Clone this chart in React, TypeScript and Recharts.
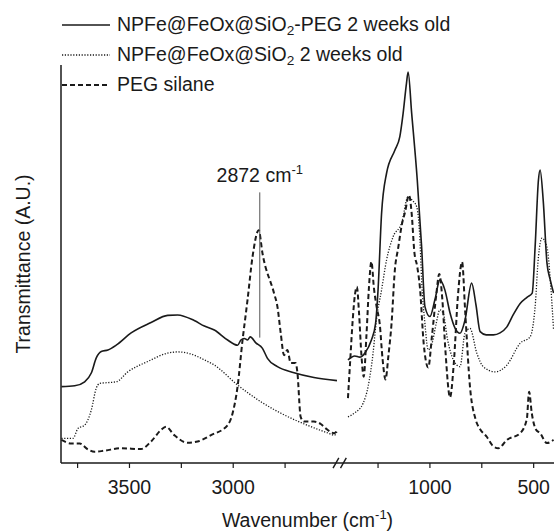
import { LineChart, Line, XAxis, YAxis, ReferenceLine, ReferenceDot, Label } from "recharts";

// wavenumber (cm-1) / transmittance (a.u.) pairs
const solidLeft: [number, number][] = [
  [3828, 19.2], [3764, 19.4], [3716, 20.4], [3684, 22.6], [3660, 26.4], [3636, 28.0], [3604, 28.4],
  [3564, 29.6], [3492, 32.7], [3396, 35.3], [3316, 37.1], [3268, 37.2], [3188, 35.8], [3139, 34.4],
  [3091, 33.4], [3027, 30.9], [2979, 29.6], [2963, 30.9], [2947, 31.3], [2931, 30.9], [2918, 31.7],
  [2891, 30.2], [2859, 28.8], [2835, 26.3], [2787, 24.2], [2707, 22.7], [2611, 21.5], [2500, 20.7],
];
const solidRight: [number, number][] = [
  [1395, 25.9], [1362, 26.9], [1338, 26.6], [1314, 27.6], [1282, 30.9], [1262, 35.0], [1250, 43.5],
  [1233, 62.7], [1209, 72.8], [1169, 78.6], [1145, 82.0], [1129, 87.9], [1113, 95.4], [1105, 98.2],
  [1088, 87.9], [1061, 71.1], [1040, 54.3], [1024, 39.3], [1000, 36.8], [976, 41.0], [952, 46.0],
  [928, 43.5], [903, 37.7], [879, 33.9], [855, 32.6], [831, 35.9], [799, 45.2], [778, 39.7],
  [758, 33.0], [729, 32.2], [694, 32.2], [662, 32.7], [629, 34.2], [599, 37.2], [565, 40.1],
  [531, 41.7], [507, 42.7], [493, 54.3], [477, 71.1], [469, 73.6], [454, 66.0], [436, 50.3],
  [420, 46.0], [404, 42.7],
];
const dottedLeft: [number, number][] = [
  [3828, 6.2], [3772, 6.2], [3748, 8.7], [3716, 9.5], [3684, 13.3], [3660, 18.8], [3644, 20.0],
  [3604, 20.2], [3564, 20.4], [3508, 22.9], [3412, 25.5], [3316, 27.6], [3268, 27.9], [3204, 27.4],
  [3139, 25.9], [3091, 24.6], [2979, 19.6], [2867, 15.4], [2755, 12.1], [2643, 9.5], [2547, 7.6],
  [2512, 7.0], [2500, 7.9],
];
const dottedRight: [number, number][] = [
  [1395, 11.6], [1362, 12.6], [1322, 15.0], [1298, 19.2], [1274, 27.6], [1258, 35.9], [1233, 43.5],
  [1209, 51.0], [1177, 56.9], [1137, 60.2], [1105, 66.9], [1085, 66.0], [1064, 64.4], [1048, 56.0],
  [1040, 46.0], [1024, 35.0], [1008, 28.4], [990, 30.0], [970, 35.0], [952, 38.5], [936, 37.6],
  [915, 31.0], [887, 25.9], [855, 24.2], [831, 32.6], [807, 33.8], [774, 27.6], [743, 24.2],
  [686, 22.9], [629, 24.6], [565, 30.1], [517, 31.7], [493, 39.3], [477, 51.8], [460, 56.5],
  [436, 54.3], [420, 46.0], [404, 33.4],
];
const dashedLeft: [number, number][] = [
  [3828, 5.8], [3780, 4.9], [3740, 4.9], [3700, 3.4], [3668, 2.8], [3620, 3.1], [3540, 3.7],
  [3444, 3.5], [3396, 5.4], [3348, 8.3], [3324, 9.1], [3284, 7.0], [3220, 5.1], [3172, 5.4],
  [3107, 7.0], [3027, 9.5], [3003, 12.5], [2979, 19.2], [2955, 30.9], [2939, 37.6], [2931, 41.0],
  [2907, 51.8], [2877, 58.5], [2859, 52.7], [2803, 42.6], [2787, 39.3], [2771, 32.6], [2755, 27.1],
  [2739, 28.4], [2723, 25.1], [2699, 25.1], [2691, 22.9], [2675, 11.6], [2659, 10.4], [2611, 10.4],
  [2578, 9.8], [2554, 8.7], [2514, 7.5], [2500, 8.1],
];
const dashedRight: [number, number][] = [
  [1395, 16.3], [1385, 25.0], [1372, 36.0], [1362, 42.0], [1352, 44.3], [1342, 38.0], [1330, 27.0],
  [1319, 21.7], [1306, 32.0], [1294, 44.0], [1282, 50.6], [1270, 44.0], [1256, 39.0], [1242, 35.0],
  [1228, 26.0], [1214, 21.0], [1200, 27.0], [1185, 35.0], [1169, 48.5], [1153, 54.0], [1135, 60.0],
  [1120, 63.0], [1101, 67.3], [1088, 62.7], [1075, 53.0], [1061, 49.3], [1048, 44.0], [1030, 30.0],
  [1008, 24.0], [990, 32.0], [970, 42.0], [955, 47.5], [940, 41.0], [925, 28.0], [903, 16.5],
  [885, 25.0], [865, 42.0], [845, 50.5], [830, 38.0], [807, 19.2], [780, 11.0], [758, 8.5],
  [726, 6.6], [700, 4.5], [670, 3.7], [629, 5.8], [565, 7.5], [533, 11.0], [522, 17.9],
  [509, 12.5], [490, 8.5], [469, 7.5], [436, 5.0], [404, 5.8],
];

const majorTicks = [3500, 3000, 1000, 500];
const minorTicks = [3750, 3250, 2750, 1250, 750];
const peakLabel = 2872;

// broken axis: 3830..2500 then a gap, then 1400..~400
const LEFT_START = 3830;
const LEFT_END = 2500;
const RIGHT_START = 1400;
const GAP = 48;
const U_MAX = 2376;

const toU = (w: number) =>
  w >= 2000 ? LEFT_START - w : LEFT_START - LEFT_END + GAP + (RIGHT_START - w);
const fromU = (u: number) =>
  u <= LEFT_START - LEFT_END + GAP / 2 ? LEFT_START - u : RIGHT_START - (u - (LEFT_START - LEFT_END + GAP));

const toRows = (pts: [number, number][]) => pts.map(([w, t]) => ({ u: toU(w), t }));

const FONT = "'Liberation Sans', Arial, sans-serif";
const INK = "#1a1a1a";

function LegendRow({ dash, width, children }: { dash?: string; width: number; children: any }) {
  return (
    <div style={{ display: "flex", alignItems: "center", height: 30 }}>
      <svg width={50} height={10} style={{ marginRight: 5 }}>
        <line x1={0} y1={5} x2={48} y2={5} stroke={INK} strokeWidth={width} strokeDasharray={dash} />
      </svg>
      <span>{children}</span>
    </div>
  );
}

const sub = { fontSize: "0.7em", verticalAlign: "-0.3em", lineHeight: 0 } as const;

export default function App() {
  const ticks = [...minorTicks, ...majorTicks].map(toU).sort((a, b) => a - b);
  const peakU = toU(peakLabel);

  return (
    <div style={{ position: "absolute", left: 0, top: 0, width: 554, height: 531, background: "#fff", fontFamily: FONT }}>
      <LineChart width={554} height={531} margin={{ top: 65, right: 0, bottom: 0, left: 0 }}>
        <XAxis
          type="number"
          dataKey="u"
          domain={[0, U_MAX]}
          ticks={ticks}
          allowDataOverflow
          tickSize={5}
          tickMargin={12}
          height={68}
          tickFormatter={(u: number) => {
            const w = Math.round(fromU(u));
            return majorTicks.includes(w) ? String(w) : "";
          }}
          axisLine={{ stroke: INK, strokeWidth: 1.5 }}
          tickLine={{ stroke: INK, strokeWidth: 1.2 }}
          tick={{ fill: INK, fontSize: 19.5, fontFamily: FONT }}
        >
          <Label
            content={(p: any) => (
              <text x={p.viewBox.x + p.viewBox.width / 2} y={527} textAnchor="middle" fill={INK} fontSize={19.5} fontFamily={FONT}>
                Wavenumber (cm
                <tspan dy={-8} fontSize={13}>-1</tspan>
                <tspan dy={8}>)</tspan>
              </text>
            )}
          />
        </XAxis>
        <YAxis
          type="number"
          domain={[0, 100]}
          width={61}
          tick={false}
          tickLine={false}
          axisLine={{ stroke: INK, strokeWidth: 1.5 }}
        >
          <Label
            content={() => (
              <text x={30} y={264} transform="rotate(-90 30 264)" textAnchor="middle" fill={INK} fontSize={19.5} fontFamily={FONT}>
                Transmittance (A.U.)
              </text>
            )}
          />
        </YAxis>

        <Line data={toRows(solidLeft)} dataKey="t" type="monotone" stroke={INK} strokeWidth={1.6} dot={false} isAnimationActive={false} />
        <Line data={toRows(solidRight)} dataKey="t" type="monotone" stroke={INK} strokeWidth={1.6} dot={false} isAnimationActive={false} />
        <Line data={toRows(dottedLeft)} dataKey="t" type="monotone" stroke={INK} strokeWidth={1.3} strokeDasharray="1.2 1.6" dot={false} isAnimationActive={false} />
        <Line data={toRows(dottedRight)} dataKey="t" type="monotone" stroke={INK} strokeWidth={1.3} strokeDasharray="1.2 1.6" dot={false} isAnimationActive={false} />
        <Line data={toRows(dashedLeft)} dataKey="t" type="monotone" stroke={INK} strokeWidth={2} strokeDasharray="5 3" dot={false} isAnimationActive={false} />
        <Line data={toRows(dashedRight)} dataKey="t" type="monotone" stroke={INK} strokeWidth={2} strokeDasharray="5 3" dot={false} isAnimationActive={false} />

        <ReferenceLine segment={[{ x: peakU, y: 68 }, { x: peakU, y: 31.5 }]} stroke="#555" strokeWidth={1} />
        <ReferenceDot
          x={peakU}
          y={70.5}
          r={0}
          fill="none"
          stroke="none"
          label={{
            content: (p: any) => (
              <text x={p.viewBox.x} y={p.viewBox.y} textAnchor="middle" fill={INK} fontSize={19.5} fontFamily={FONT}>
                {peakLabel} cm
                <tspan dy={-8} fontSize={13}>-1</tspan>
              </text>
            ),
          }}
        />
        {/* axis break marks */}
        <ReferenceLine segment={[{ x: 1311, y: -1.3 }, { x: 1339, y: 1.3 }]} stroke={INK} strokeWidth={1.4} ifOverflow="visible" />
        <ReferenceLine segment={[{ x: 1347, y: -1.3 }, { x: 1375, y: 1.3 }]} stroke={INK} strokeWidth={1.4} ifOverflow="visible" />
      </LineChart>

      <div style={{ position: "absolute", left: 62, top: 10, fontSize: 19.5, color: INK, lineHeight: 1 }}>
        <LegendRow width={1.6}>
          NPFe@FeOx@SiO<sub style={sub}>2</sub>-PEG 2 weeks old
        </LegendRow>
        <LegendRow width={1.3} dash="1.2 1.6">
          NPFe@FeOx@SiO<sub style={sub}>2</sub> 2 weeks old
        </LegendRow>
        <LegendRow width={2} dash="5 3">
          PEG silane
        </LegendRow>
      </div>
    </div>
  );
}
